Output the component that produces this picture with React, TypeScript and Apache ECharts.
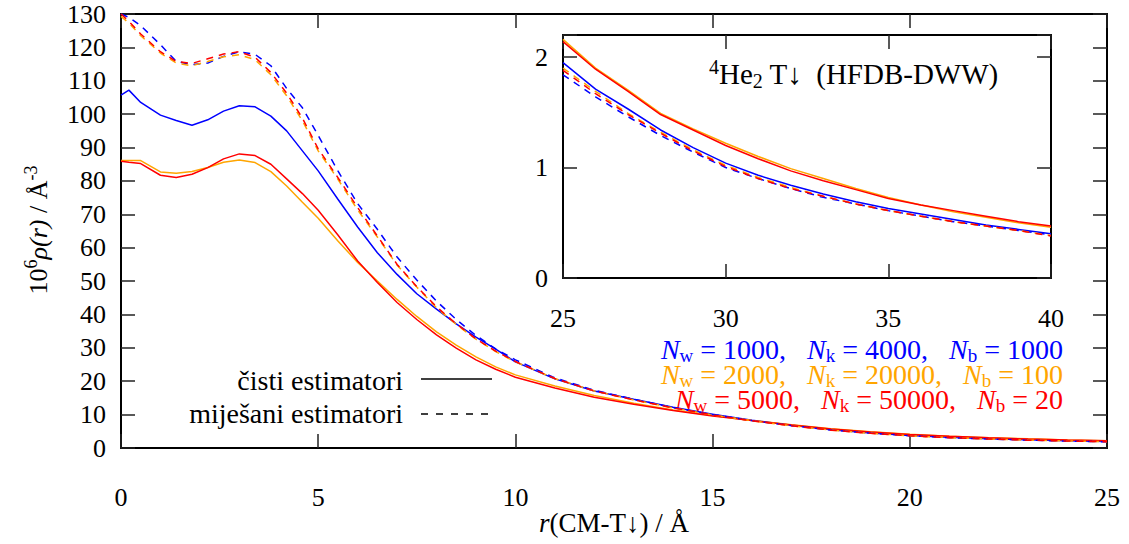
import React, { useEffect, useRef } from 'react';
import * as echarts from 'echarts';

// r values (Å)
const X = [0, 0.2, 0.5, 1, 1.4, 1.8, 2.2, 2.6, 3, 3.4, 3.8, 4.2, 4.6, 5, 5.5, 6, 6.5, 7, 7.5, 8,
  8.5, 9, 9.5, 10, 11, 12, 13, 14, 15, 16, 17, 18, 19, 20, 21, 22, 23, 24, 25, 26,
  27, 28, 29, 30, 31, 32, 33, 34, 35, 36, 37, 38, 39, 40];

// 10^6 rho(r) values
const BLUE_SOLID = [105.7, 107.2, 103.5, 99.7, 98.1, 96.7, 98.3, 100.9, 102.5, 102.2,
  99.4, 95.0, 89.0, 83.0, 74.5, 66.2, 58.5, 52.0, 46.2, 41.6,
  37.2, 33.2, 29.6, 25.8, 20.7, 17.1, 14.6, 12.2, 10.1, 8.3,
  6.8, 5.5, 4.5, 3.75, 3.2, 2.8, 2.45, 2.2, 1.95, 1.71,
  1.53, 1.34, 1.18, 1.04, 0.93, 0.84, 0.76, 0.69, 0.63, 0.58,
  0.53, 0.48, 0.44, 0.40];
const ORANGE_SOLID = [86.1, 86.1, 86.1, 82.7, 82.3, 82.8, 84.0, 85.6, 86.3, 85.5,
  82.8, 78.5, 73.6, 68.8, 62.0, 55.6, 50.0, 44.5, 39.4, 34.8,
  30.8, 27.3, 24.3, 21.9, 18.6, 15.7, 13.4, 11.4, 9.7, 8.25,
  6.95, 5.75, 4.85, 4.1, 3.55, 3.1, 2.75, 2.43, 2.16, 1.90,
  1.70, 1.49, 1.35, 1.22, 1.10, 0.99, 0.90, 0.81, 0.73, 0.66,
  0.60, 0.55, 0.50, 0.46];
const RED_SOLID = [85.9, 85.6, 85.2, 81.7, 81.0, 82.0, 84.0, 86.6, 88.1, 87.6,
  85.0, 80.6, 76.2, 71.2, 63.8, 56.0, 49.6, 43.6, 38.5, 33.9,
  29.9, 26.4, 23.6, 21.2, 18.0, 15.2, 13.1, 11.2, 9.6, 8.2,
  6.9, 5.7, 4.8, 4.05, 3.5, 3.05, 2.7, 2.4, 2.14, 1.89,
  1.69, 1.48, 1.34, 1.20, 1.08, 0.97, 0.88, 0.80, 0.72, 0.66,
  0.61, 0.56, 0.51, 0.47];
const BLUE_DASHED = [130.0, 129.0, 126.5, 120.8, 115.8, 114.8, 115.3, 117.3, 118.7, 117.9,
  114.5, 107.7, 101.9, 93.6, 83.0, 73.2, 65.5, 57.2, 50.3, 44.0,
  38.5, 33.7, 29.7, 26.4, 21.0, 17.3, 14.6, 12.1, 10.0, 8.2,
  6.7, 5.4, 4.45, 3.7, 3.1, 2.7, 2.35, 2.08, 1.84, 1.64,
  1.46, 1.29, 1.14, 1.00, 0.90, 0.81, 0.73, 0.67, 0.61, 0.56,
  0.51, 0.47, 0.43, 0.39];
const ORANGE_DASHED = [129.3, 127.3, 123.5, 118.3, 115.3, 114.5, 115.8, 117.2, 117.8, 116.3,
  111.8, 105.5, 98.0, 89.0, 80.5, 71.3, 63.2, 54.8, 48.2, 42.0,
  37.0, 32.6, 28.9, 25.8, 20.8, 17.1, 14.4, 12.0, 9.9, 8.15,
  6.65, 5.35, 4.4, 3.65, 3.1, 2.7, 2.36, 2.12, 1.90, 1.69,
  1.49, 1.32, 1.16, 1.02, 0.91, 0.82, 0.74, 0.67, 0.61, 0.56,
  0.51, 0.47, 0.43, 0.385];
const RED_DASHED = [130.0, 127.8, 124.0, 118.7, 115.8, 115.2, 116.6, 118.0, 118.7, 117.0,
  112.5, 106.3, 98.8, 89.6, 81.0, 72.0, 63.5, 55.0, 48.3, 42.3,
  37.2, 32.7, 29.0, 25.9, 20.8, 17.1, 14.4, 12.0, 9.9, 8.15,
  6.65, 5.35, 4.4, 3.65, 3.1, 2.7, 2.35, 2.1, 1.88, 1.67,
  1.48, 1.31, 1.15, 1.01, 0.90, 0.81, 0.74, 0.67, 0.61, 0.56,
  0.51, 0.47, 0.43, 0.38];

const MAIN_X_TICKS = { min: 0, max: 25, step: 5 };
const MAIN_Y_TICKS = { min: 0, max: 130, step: 10 };
const INSET_X_TICKS = { min: 25, max: 40, step: 5 };
const INSET_Y_TICKS = { min: 0, max: 2.2, step: 1 };

const LEGEND_ROWS = [
  { w: '1000', k: '4000', b: '1000' },
  { w: '2000', k: '20000', b: '100' },
  { w: '5000', k: '50000', b: '20' },
];

const BLUE = '#0000ff';
const ORANGE = '#ffa500';
const RED = '#ff0000';
const ROW_COLORS = [BLUE, ORANGE, RED];
const FONT = 'Liberation Serif';

const SERIES_DEFS = [
  { values: BLUE_SOLID, color: BLUE, dashed: false },
  { values: ORANGE_SOLID, color: ORANGE, dashed: false },
  { values: RED_SOLID, color: RED, dashed: false },
  { values: BLUE_DASHED, color: BLUE, dashed: true },
  { values: ORANGE_DASHED, color: ORANGE, dashed: true },
  { values: RED_DASHED, color: RED, dashed: true },
];

function richFor(color: string, size: number, shift: number) {
  const base = { fontFamily: FONT, fill: color };
  const small = Math.round(size * 0.68);
  return {
    n: { ...base, fontSize: size, verticalAlign: 'middle' },
    i: { ...base, fontSize: size, verticalAlign: 'middle', fontStyle: 'italic' },
    sup: { ...base, fontSize: small, verticalAlign: 'middle', padding: [0, 0, shift, 0] },
    sub: { ...base, fontSize: small, verticalAlign: 'middle', padding: [shift, 0, 0, 0] },
  };
}

export default function App() {
  const ref = useRef<HTMLDivElement>(null);
  useEffect(() => {
    if (!ref.current) return;
    const chart = echarts.init(ref.current, undefined, { renderer: 'svg' });

    const axisLine = { show: true, onZero: false, lineStyle: { color: '#000', width: 2 } };
    const axisTick = { show: true, inside: true, length: 14, lineStyle: { color: '#222', width: 1.5 } };
    const label = (margin: number, extra: any = {}) => ({
      show: true, color: '#000', fontSize: 26, fontFamily: FONT, margin, ...extra,
    });
    const hidden = { show: false };

    const mk = (gridIndex: number, t: any, position: string, lab: any) => ({
      type: 'value', gridIndex, min: t.min, max: t.max, interval: t.step, position,
      axisLine, axisTick, axisLabel: lab, splitLine: { show: false },
    });

    const pts = (vals: number[], lo: number, hi: number) =>
      X.map((x, i) => [x, vals[i]]).filter((p) => p[0] >= lo && p[0] <= hi);

    const series: any[] = [];
    [0, 1].forEach((g) => {
      SERIES_DEFS.forEach((d) => {
        series.push({
          type: 'line',
          xAxisIndex: g === 0 ? 0 : 2,
          yAxisIndex: g === 0 ? 0 : 2,
          data: g === 0 ? pts(d.values, MAIN_X_TICKS.min, MAIN_X_TICKS.max) : pts(d.values, INSET_X_TICKS.min, INSET_X_TICKS.max),
          showSymbol: false,
          symbol: 'none',
          clip: true,
          silent: true,
          lineStyle: { color: d.color, width: 1.5, type: d.dashed ? [7, 6] : 'solid' },
        });
      });
    });

    const plain = { fill: '#000', fontSize: 28, fontFamily: FONT };
    const graphic: any[] = [
      {
        type: 'text', x: 38, y: 230, rotation: Math.PI / 2,
        style: {
          text: '{n|10}{sup|6}{i|ρ(r)}{n| / Å}{sup|-3}', rich: richFor('#000', 26, 14), fontFamily: FONT, fontSize: 26,
          align: 'center', verticalAlign: 'middle',
        },
      },
      {
        type: 'text', x: 614, y: 523,
        style: {
          text: '{i|r}{n|(CM-T↓) / Å}', rich: richFor('#000', 27, 14), fontFamily: FONT, fontSize: 27,
          align: 'center', verticalAlign: 'middle',
        },
      },
      {
        type: 'text', x: 709, y: 74,
        style: {
          text: '{sup|4}{n|He}{sub|2}{n| T↓  (HFDB-DWW)}', rich: richFor('#000', 29, 14), fontFamily: FONT, fontSize: 29,
          align: 'left', verticalAlign: 'middle',
        },
      },
      {
        type: 'text', x: 403, y: 380,
        style: { ...plain, text: 'čisti estimatori', align: 'right', verticalAlign: 'middle' },
      },
      {
        type: 'text', x: 403, y: 413,
        style: { ...plain, text: 'miješani estimatori', align: 'right', verticalAlign: 'middle' },
      },
      {
        type: 'line', shape: { x1: 421, y1: 379, x2: 492, y2: 379 },
        style: { stroke: '#000', lineWidth: 1.5 },
      },
      {
        type: 'line', shape: { x1: 421, y1: 414, x2: 492, y2: 414 },
        style: { stroke: '#000', lineWidth: 1.5, lineDash: [7, 8] },
      },
    ];
    LEGEND_ROWS.forEach((r, idx) => {
      graphic.push({
        type: 'text', x: 1063, y: 349 + idx * 25,
        style: {
          text: `{i|N}{sub|w}{n| = ${r.w},   }{i|N}{sub|k}{n| = ${r.k},   }{i|N}{sub|b}{n| = ${r.b}}`,
          rich: richFor(ROW_COLORS[idx], 28, 12), fontFamily: FONT, fontSize: 28,
          align: 'right', verticalAlign: 'middle',
        },
      });
    });

    chart.setOption({
      animation: false,
      backgroundColor: '#fff',
      grid: [
        { left: 121, top: 14, right: 22, bottom: 96, show: false },
        { left: 563, top: 35, width: 488, height: 243, show: false },
      ],
      xAxis: [
        mk(0, MAIN_X_TICKS, 'bottom', label(36)),
        mk(0, MAIN_X_TICKS, 'top', hidden),
        mk(1, INSET_X_TICKS, 'bottom', label(27)),
        mk(1, INSET_X_TICKS, 'top', hidden),
      ],
      yAxis: [
        mk(0, MAIN_Y_TICKS, 'left', label(15)),
        mk(0, MAIN_Y_TICKS, 'right', hidden),
        mk(1, INSET_Y_TICKS, 'left', label(15, { formatter: (v: number) => (Number.isInteger(v) ? String(v) : '') })),
        mk(1, INSET_Y_TICKS, 'right', hidden),
      ],
      series,
      graphic,
    });
    return () => chart.dispose();
  }, []);

  return (
    <div
      ref={ref}
      style={{ position: 'fixed', left: 0, top: 0, width: 1129, height: 544, background: '#fff' }}
    />
  );
}
